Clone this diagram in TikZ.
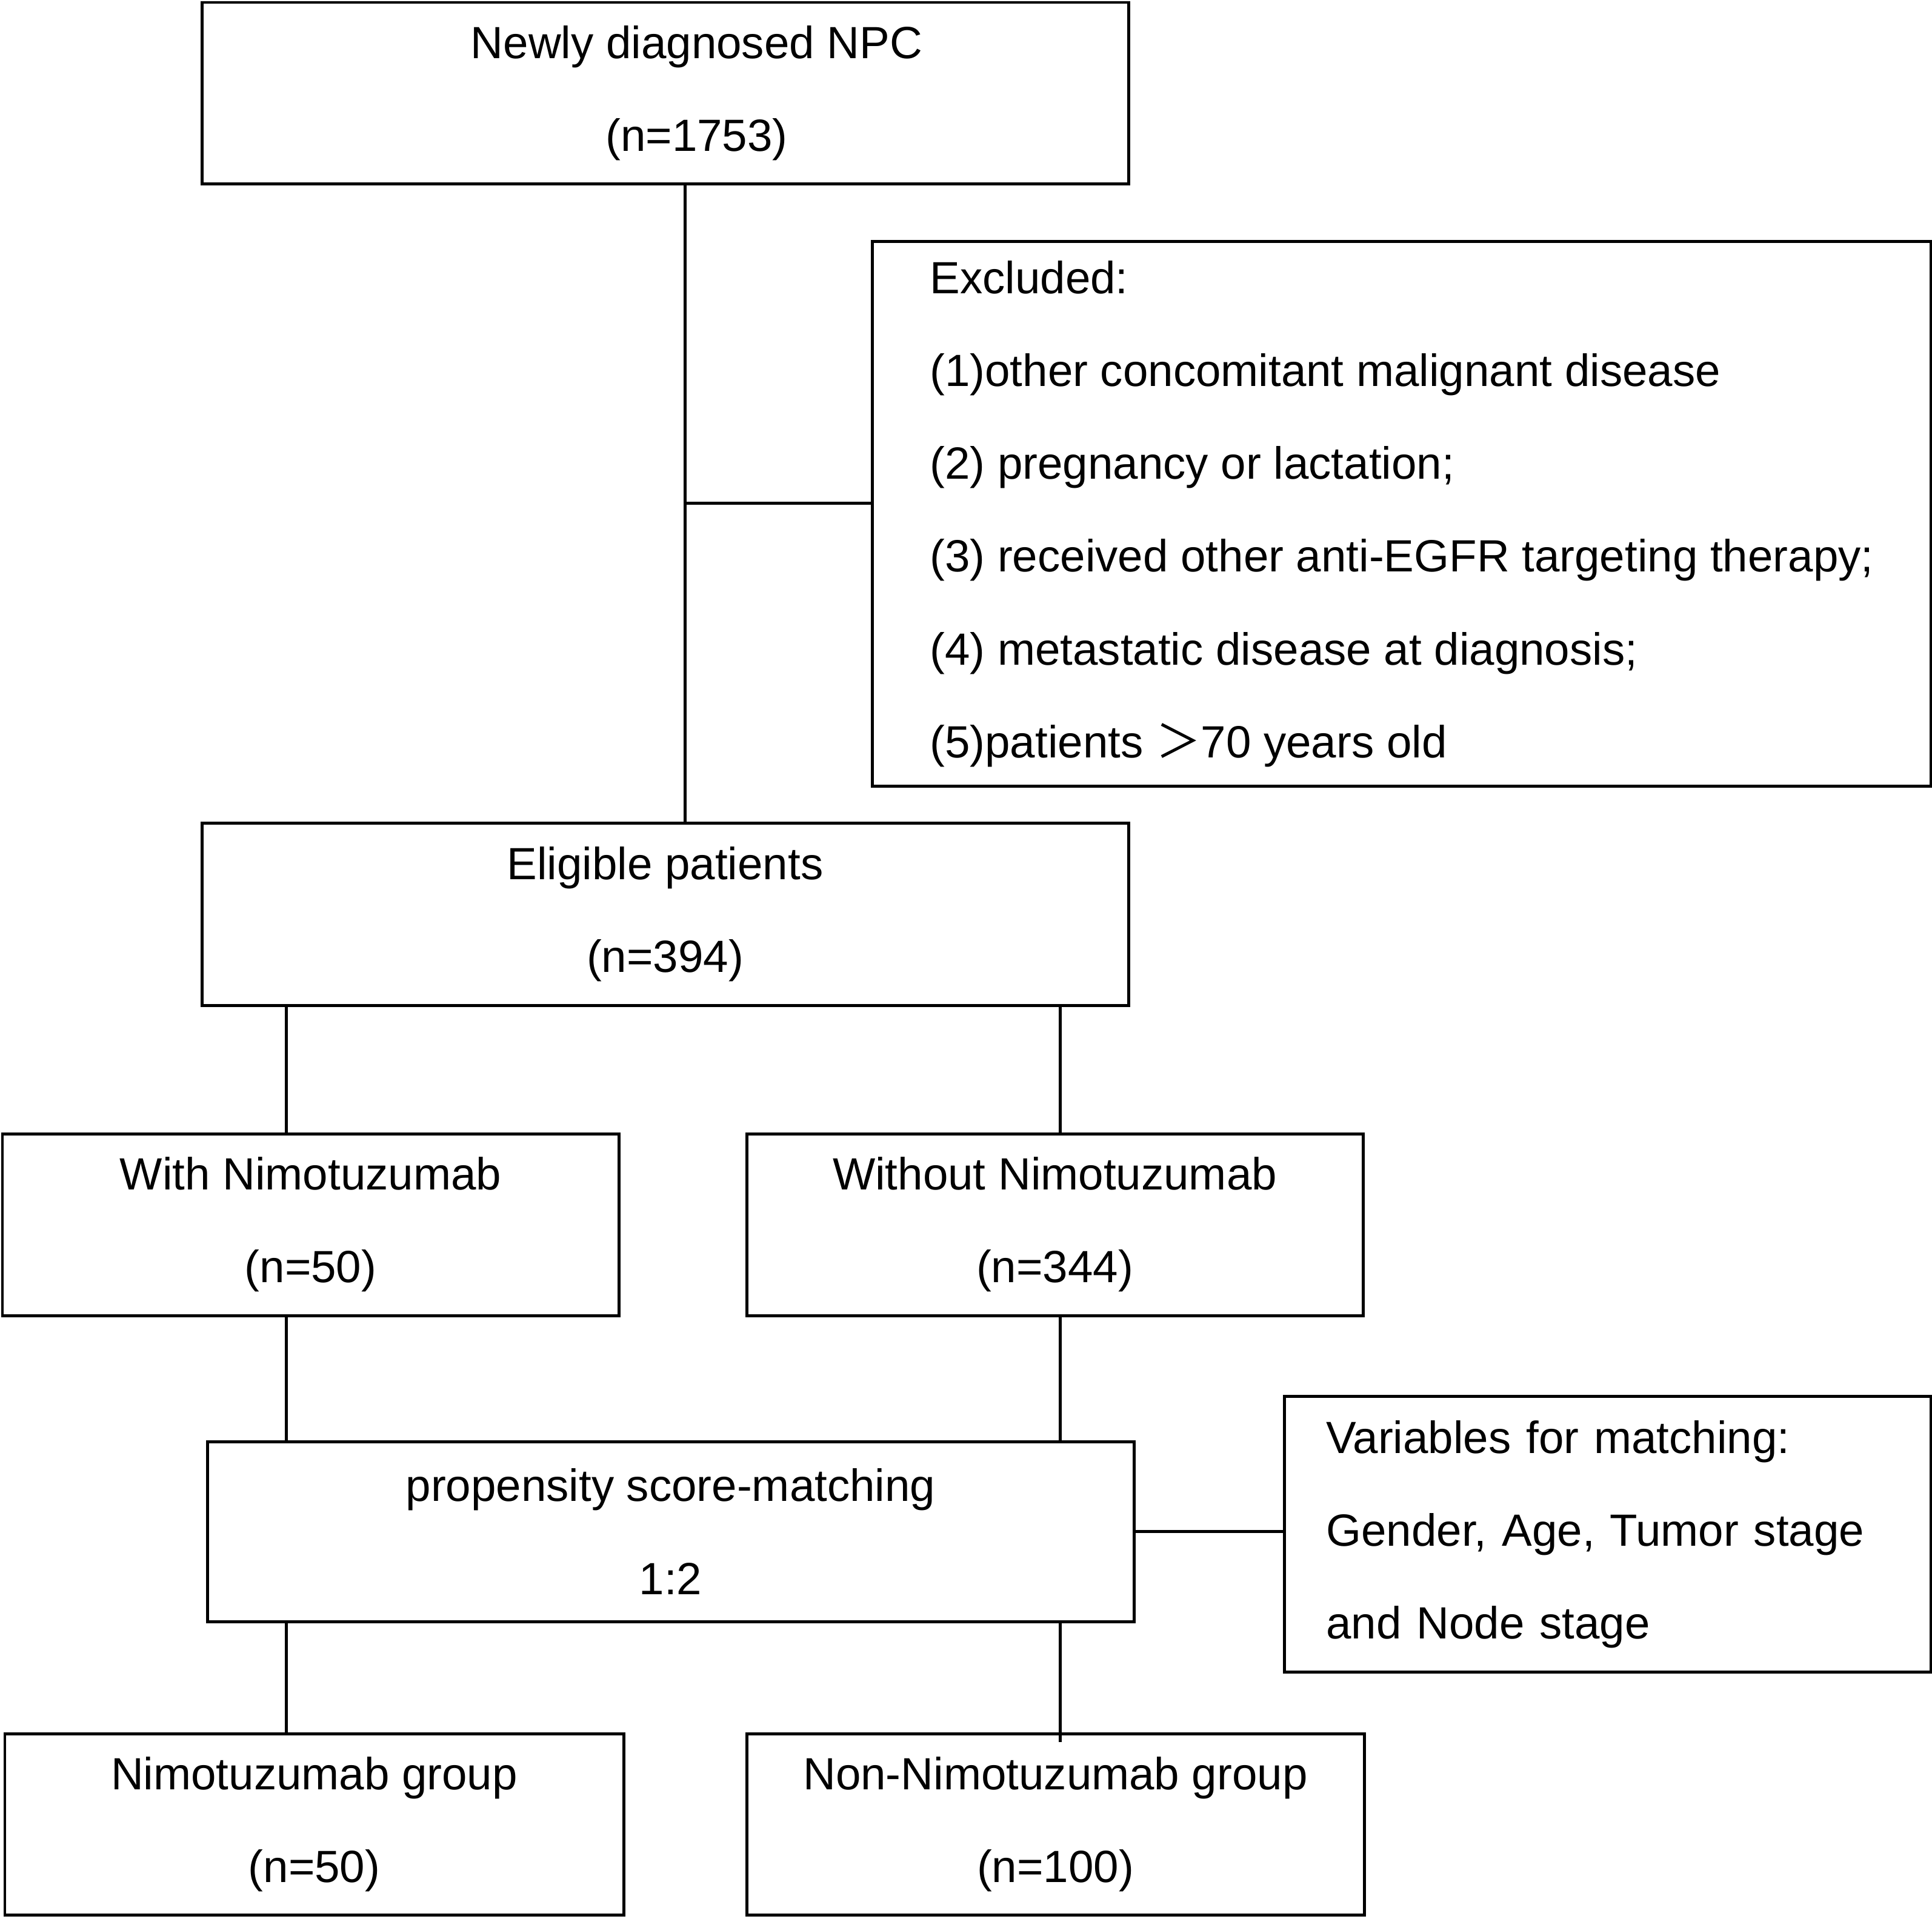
\documentclass[tikz,border=0pt]{standalone}
\usepackage{fontspec}
\setmainfont{Liberation Sans}
\newfontfamily\cjk{Noto Sans CJK SC}

\tikzset{
  box/.style={draw, line width=1.42pt, align=center, inner sep=0pt,
    font=\fontsize{21.2}{43.6}\selectfont},
  listbox/.style={box, align=left, anchor=north west, inner ysep=0pt},
  link/.style={line width=1.42pt},
}

\begin{document}
\begin{tikzpicture}
    \useasboundingbox (0,0) rectangle (31.88,-31.66);

    % main column
    \node[box, minimum width=15.29cm, minimum height=2.99cm] (npc) at (10.975,-1.535) {\hspace*{1.04cm}Newly diagnosed NPC\\\hspace*{1.04cm}(n=1753)};
    \node[box, minimum width=15.29cm, minimum height=3.01cm] (elig) at (10.975,-15.085) {Eligible patients\\(n=394)};

    \node[box, minimum width=10.17cm, minimum height=3.0cm] (with) at (5.125,-20.21) {With Nimotuzumab\\(n=50)};
    \node[box, minimum width=10.17cm, minimum height=3.0cm] (without) at (17.405,-20.21) {Without Nimotuzumab\\(n=344)};

    \node[box, minimum width=15.29cm, minimum height=2.97cm] (psm) at (11.065,-25.275) {propensity score-matching\\1:2};

    \node[box, minimum width=10.21cm, minimum height=2.99cm] (grp) at (5.185,-30.105) {Nimotuzumab group\\(n=50)};
    \node[box, minimum width=10.19cm, minimum height=2.99cm] (nongrp) at (17.415,-30.105) {Non-Nimotuzumab group\\(n=100)};

    % side boxes
    \node[listbox, minimum width=17.47cm, minimum height=8.99cm] (excl) at (14.37,-3.96)
        {Excluded:\\(1)other concomitant malignant disease\\(2) pregnancy or lactation;\\(3) received other anti-EGFR targeting therapy;\\(4) metastatic disease at diagnosis;\\(5)patients {\cjk ＞}70 years old};
    \node[listbox, text width=9.29cm, inner xsep=0.69cm, minimum height=4.55cm] (vars) at (21.17,-23.02)
        {Variables for matching:\\Gender, Age, Tumor stage\\and Node stage};

    % connectors
    \coordinate (spine) at (11.30,-8.30);
    \coordinate (lcol) at (4.72,0);
    \coordinate (rcol) at (17.49,0);

    \draw[link] (npc.south -| spine) -- (elig.north -| spine);
    \draw[link] (spine) -- (excl.west |- spine);

    \draw[link] (elig.south -| lcol) -- (with.north -| lcol);
    \draw[link] (elig.south -| rcol) -- (without.north -| rcol);
    \draw[link] (with.south -| lcol) -- (psm.north -| lcol);
    \draw[link] (without.south -| rcol) -- (psm.north -| rcol);

    \draw[link] (psm.east) -- (vars.west |- psm.east);

    \draw[link] (psm.south -| lcol) -- (grp.north -| lcol);
    \draw[link] (psm.south -| rcol) -- ([yshift=-0.16cm]nongrp.north -| rcol);

\end{tikzpicture}
\end{document}
